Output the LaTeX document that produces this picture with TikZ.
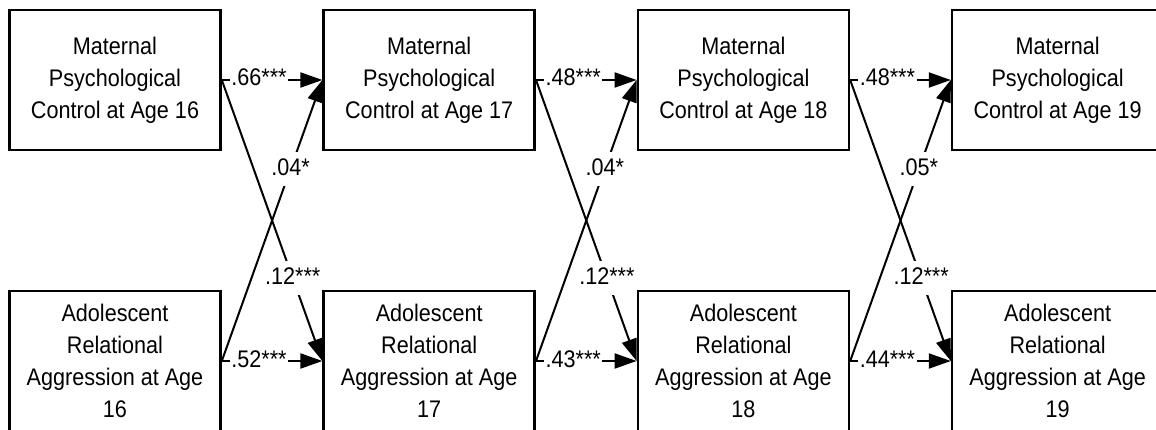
\documentclass[tikz,border=0pt]{standalone}
\usepackage{fontspec}
\setmainfont[FakeStretch=0.9]{Liberation Sans}
\usetikzlibrary{arrows.meta}
\begin{document}
\begin{tikzpicture}[x=1pt,y=1pt,
  box/.style={draw, line width=2.6pt, minimum width=211pt, minimum height=140pt,
    align=center, inner sep=0pt, font=\fontsize{24}{32}\selectfont},
  path/.style={line width=2pt, -{Triangle[length=22pt,width=15pt]}},
  lbl/.style={fill=white, inner xsep=1.5pt, inner ysep=5pt, text height=18pt, text depth=6pt,
    font=\fontsize{24}{32}\selectfont}]
\useasboundingbox (0,0) rectangle (1156,-430);
\clip (0,0) rectangle (1156,-430);
\foreach \i/\a in {0/16,1/17,2/18,3/19}{
  \node[box] (m\i) at (115+314.2*\i,-80) {Maternal\\Psychological\\Control at Age \a};
  \node[box] (a\i) at (115+314.2*\i,-361) {Adolescent\\Relational\\Aggression at Age\\\a};
}
\draw[path] (m0.east) -- node[lbl,pos=0.37]{.66***} (m1.west);
\draw[path] (m1.east) -- node[lbl,pos=0.37]{.48***} (m2.west);
\draw[path] (m2.east) -- node[lbl,pos=0.37]{.48***} (m3.west);
\draw[path] (a0.east) -- node[lbl,pos=0.37]{.52***} (a1.west);
\draw[path] (a1.east) -- node[lbl,pos=0.37]{.43***} (a2.west);
\draw[path] (a2.east) -- node[lbl,pos=0.37]{.44***} (a3.west);
\draw[path] (m0.east) -- node[lbl,pos=0.705]{.12***} (a1.west);
\draw[path] (m1.east) -- node[lbl,pos=0.705]{.12***} (a2.west);
\draw[path] (m2.east) -- node[lbl,pos=0.705]{.12***} (a3.west);
\draw[path] (a0.east) -- node[lbl,pos=0.683]{.04*} (m1.west);
\draw[path] (a1.east) -- node[lbl,pos=0.683]{.04*} (m2.west);
\draw[path] (a2.east) -- node[lbl,pos=0.683]{.05*} (m3.west);
\end{tikzpicture}
\end{document}
